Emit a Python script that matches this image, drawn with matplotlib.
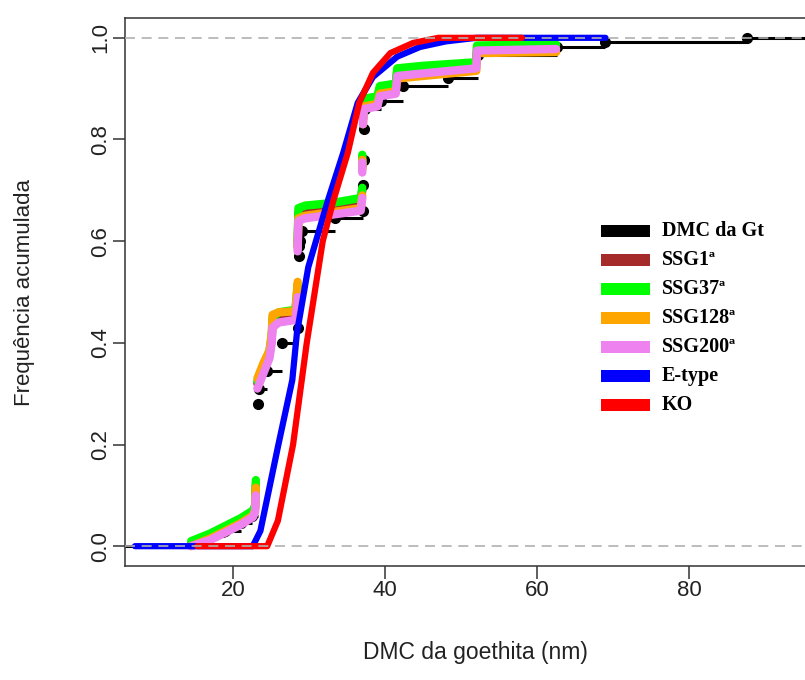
import numpy as np
import matplotlib.pyplot as plt
from matplotlib.patches import Rectangle

# empirical CDF of the goethite MCD (jump positions and cumulative frequency after each jump)
dmc_x = [15.5, 17.0, 19.0, 21.0, 22.5, 23.3, 23.4, 24.5, 26.4, 28.6, 28.65, 28.7, 28.75, 29.1,
         33.4, 37.1, 37.15, 37.2, 37.25, 37.3, 39.5, 42.3, 48.3, 52.2, 62.6, 68.9, 87.6]
dmc_y = [0.01, 0.02, 0.03, 0.045, 0.06, 0.28, 0.31, 0.345, 0.40, 0.43, 0.57, 0.59, 0.60, 0.62,
         0.645, 0.66, 0.71, 0.76, 0.82, 0.86, 0.875, 0.905, 0.92, 0.967, 0.982, 0.991, 1.0]

# simulated distributions (nan = break between jumps)
ssg_x = [14.5, 17.0, 19.0, 21.0, 22.6, 22.9, 23.0, np.nan,
         23.2, 24.0, 24.8, 25.1, 25.2, 26.0, 28.2, 28.4, 28.5, np.nan,
         28.5, 28.6, 29.5, 33.0, 36.8, 37.0, np.nan,
         37.0, 37.0, np.nan,
         37.1, 37.2, 39.0, 39.3, 41.4, 41.6, 45.0, 52.0, 52.1, 62.5]
ssg1_y = [0.005, 0.02, 0.035, 0.05, 0.065, 0.075, 0.12, np.nan,
          0.32, 0.35, 0.38, 0.41, 0.445, 0.455, 0.46, 0.49, 0.51, np.nan,
          0.59, 0.655, 0.66, 0.668, 0.678, 0.70, np.nan,
          0.745, 0.765, np.nan,
          0.84, 0.875, 0.88, 0.90, 0.905, 0.935, 0.94, 0.95, 0.982, 0.985]
ssg37_y = [0.01, 0.025, 0.04, 0.055, 0.07, 0.08, 0.13, np.nan,
           0.325, 0.355, 0.385, 0.415, 0.45, 0.46, 0.465, 0.495, 0.515, np.nan,
           0.60, 0.665, 0.67, 0.675, 0.685, 0.705, np.nan,
           0.75, 0.77, np.nan,
           0.845, 0.88, 0.885, 0.905, 0.91, 0.94, 0.945, 0.952, 0.985, 0.987]
ssg128_y = [0.0, 0.015, 0.03, 0.045, 0.06, 0.07, 0.115, np.nan,
            0.33, 0.36, 0.385, 0.42, 0.455, 0.46, 0.462, 0.50, 0.52, np.nan,
            0.585, 0.645, 0.65, 0.657, 0.665, 0.69, np.nan,
            0.74, 0.76, np.nan,
            0.83, 0.865, 0.87, 0.89, 0.895, 0.92, 0.925, 0.935, 0.97, 0.972]
ssg200_y = [0.0, 0.012, 0.027, 0.042, 0.057, 0.067, 0.10, np.nan,
            0.31, 0.34, 0.37, 0.40, 0.43, 0.44, 0.445, 0.47, 0.49, np.nan,
            0.58, 0.64, 0.645, 0.652, 0.66, 0.685, np.nan,
            0.735, 0.755, np.nan,
            0.83, 0.86, 0.865, 0.885, 0.89, 0.925, 0.93, 0.94, 0.975, 0.978]

# fitted models
etype_x = [7.1, 22.6, 23.6, 25.9, 27.8, 28.4, 29.9, 32.5, 34.5, 36.4, 38.4, 41.6, 44.6, 48.0, 52.0, 69.0]
etype_y = [0.0, 0.0, 0.03, 0.195, 0.327, 0.419, 0.549, 0.681, 0.774, 0.872, 0.923, 0.963, 0.982, 0.993, 1.0, 1.0]
ko_x = [15.3, 24.5, 25.9, 27.9, 29.7, 31.8, 33.2, 35.1, 36.6, 38.4, 40.7, 43.7, 47.0, 58.0]
ko_y = [0.0, 0.0, 0.05, 0.2, 0.4, 0.6, 0.68, 0.774, 0.872, 0.931, 0.97, 0.99, 1.0, 1.0]

labels = ['DMC da Gt', 'SSG1ª', 'SSG37ª', 'SSG128ª', 'SSG200ª', 'E-type', 'KO']
colors = ['black', '#A52A2A', '#00FF00', '#FFA500', '#EE82EE', '#0000FF', '#FF0000']

fig = plt.figure(figsize=(8.05, 6.8), dpi=100)
ax = fig.add_axes([125/805, 114/680, 701/805, 548/680])
xlo, xhi = 5.79, 98.0
ax.set_xlim(xlo, xhi)
ax.set_ylim(-0.039, 1.039)

# ecdf drawn as horizontal steps only, with a point at each jump
starts = [xlo] + dmc_x
ends = dmc_x + [xhi]
levels = [0.0] + dmc_y
ax.hlines(levels, starts, ends, color='black', lw=2.2, zorder=2)
ax.plot(dmc_x, dmc_y, 'o', color='black', ms=7, zorder=2)

for yy, c in zip([ssg1_y, ssg37_y, ssg128_y, ssg200_y], colors[1:5]):
    ax.plot(ssg_x, yy, color=c, lw=6, solid_capstyle='round', solid_joinstyle='round', zorder=3)

ax.plot(etype_x, etype_y, color=colors[5], lw=4.5, solid_capstyle='round', zorder=4)
ax.plot(ko_x, ko_y, color=colors[6], lw=4.5, solid_capstyle='round', zorder=5)

for h in (0, 1):
    ax.axhline(h, color='#b0b0b0', lw=1.2, ls=(0, (6, 4)), zorder=6)

ax.spines['right'].set_visible(False)
for s in ('left', 'bottom', 'top'):
    ax.spines[s].set_color('#333333')
    ax.spines[s].set_linewidth(1.1)

ax.set_xticks([20, 40, 60, 80])
ax.set_yticks([0, 0.2, 0.4, 0.6, 0.8, 1.0])
ax.set_yticklabels(['0.0', '0.2', '0.4', '0.6', '0.8', '1.0'], rotation=90, va='center')
ax.tick_params(length=9, width=1.1, color='#333333', labelsize=16)
ax.tick_params(axis='x', pad=1)
ax.tick_params(axis='y', pad=1)
for t in ax.get_xticklabels() + ax.get_yticklabels():
    t.set_fontfamily('Liberation Sans')
    t.set_color('#222222')
ax.set_xlabel('DMC da goethita (nm)', fontsize=16.5, family='Liberation Sans', color='#222222')
ax.set_ylabel('Frequência acumulada', fontsize=16, family='Liberation Sans', color='#222222')
ax.xaxis.set_label_coords(0.5, -0.137)
ax.yaxis.set_label_coords(-0.128, 0.5)

# legend
for i, (lab, c) in enumerate(zip(labels, colors)):
    yc = 231 + 29 * i
    fig.add_artist(Rectangle((601/805, (680 - yc - 6)/680), 49/805, 12/680,
                             transform=fig.transFigure, facecolor=c, edgecolor='none'))
    fig.text(662/805, (680 - yc)/680, lab, family='Liberation Serif', weight='bold',
             fontsize=14.5, va='center', ha='left')

fig.savefig('out.png', dpi=100)
